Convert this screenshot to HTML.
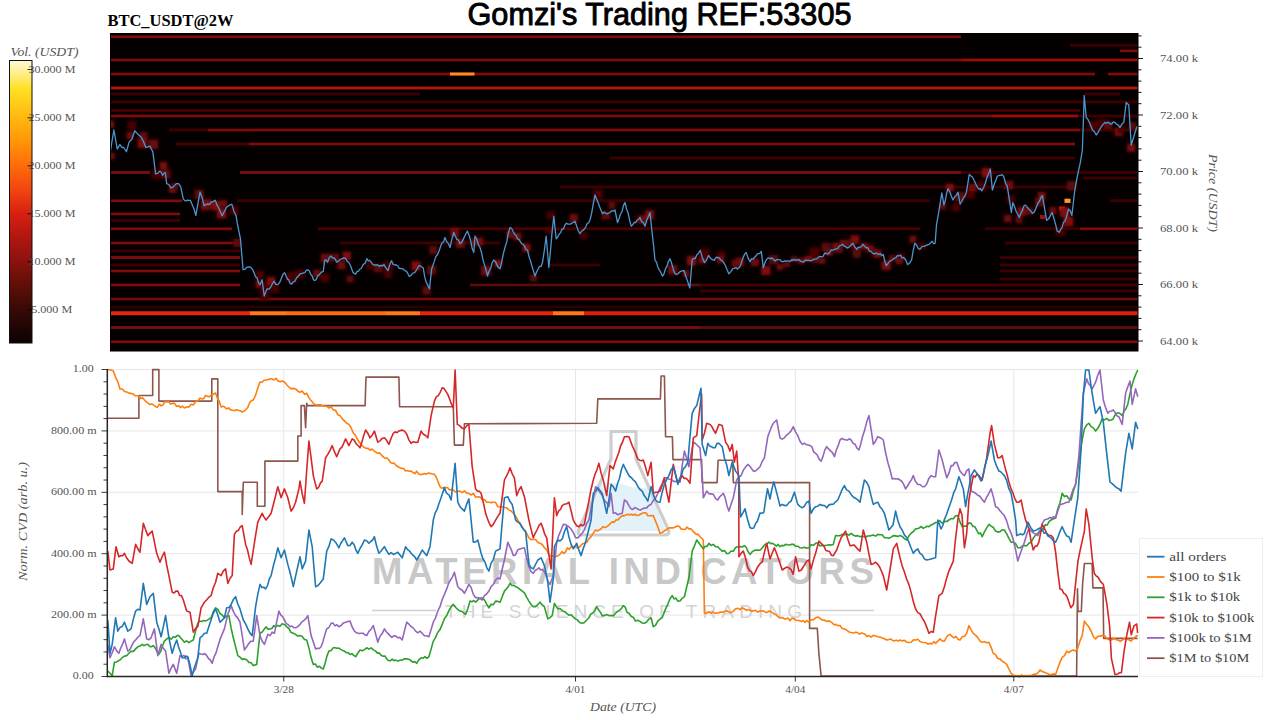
<!DOCTYPE html><html><head><meta charset="utf-8"><style>html,body{margin:0;padding:0;background:#fff;width:1280px;height:720px;overflow:hidden}svg{position:absolute;left:0;top:0}</style></head><body>
<svg width="1280" height="720" viewBox="0 0 1280 720">
<defs>
<linearGradient id="cb" x1="0" y1="1" x2="0" y2="0"><stop offset="0" stop-color="#0c0202"/><stop offset="0.12" stop-color="#380a06"/><stop offset="0.20" stop-color="#5e0e08"/><stop offset="0.29" stop-color="#8a120e"/><stop offset="0.37" stop-color="#b01610"/><stop offset="0.46" stop-color="#d82010"/><stop offset="0.54" stop-color="#f04410"/><stop offset="0.63" stop-color="#ff6c08"/><stop offset="0.72" stop-color="#ff9808"/><stop offset="0.80" stop-color="#ffb810"/><stop offset="0.90" stop-color="#ffe020"/><stop offset="0.96" stop-color="#fff090"/><stop offset="1" stop-color="#fff8d8"/></linearGradient>
<filter id="bl" x="-20%" y="-50%" width="140%" height="200%"><feGaussianBlur stdDeviation="0.55"/></filter>
<filter id="bl2" x="-50%" y="-50%" width="200%" height="200%"><feGaussianBlur stdDeviation="1.8"/></filter>
<clipPath id="hmclip"><rect x="110" y="33" width="1028" height="318"/></clipPath>
<clipPath id="cvdclip"><rect x="107" y="367" width="1032" height="311"/></clipPath>
</defs>
<text x="467.5" y="25" font-family="Liberation Sans" font-size="30.5" textLength="384" lengthAdjust="spacingAndGlyphs" fill="#000" stroke="#000" stroke-width="0.9" stroke-linejoin="round">Gomzi's Trading REF:53305</text>
<text x="107.5" y="26.3" font-family="Liberation Serif" font-weight="bold" font-size="16" textLength="126" lengthAdjust="spacingAndGlyphs" fill="#000">BTC_USDT@2W</text>
<rect x="110" y="33" width="1028" height="318" fill="#050000"/>
<g clip-path="url(#hmclip)">
<g filter="url(#bl)">
<rect x="110" y="35.35" width="851" height="2.8" fill="#7c0a0a"/>
<rect x="1070" y="43.90" width="68" height="2.8" fill="#3e0505"/>
<rect x="1120" y="49.40" width="18" height="2.8" fill="#7c0a0a"/>
<rect x="110" y="58.60" width="851" height="2.8" fill="#7c0a0a"/>
<rect x="961" y="58.60" width="177" height="2.8" fill="#961010"/>
<rect x="110" y="72.60" width="985" height="2.8" fill="#7c0a0a"/>
<rect x="1108" y="72.60" width="30" height="2.8" fill="#7c0a0a"/>
<rect x="110" y="86.60" width="1028" height="2.8" fill="#b41410"/>
<rect x="110" y="92.60" width="310" height="2.8" fill="#3e0505"/>
<rect x="1085" y="92.60" width="35" height="2.8" fill="#3e0505"/>
<rect x="110" y="100.60" width="1028" height="2.8" fill="#3e0505"/>
<rect x="110" y="109.10" width="970" height="2.8" fill="#4a0606"/>
<rect x="110" y="114.60" width="882" height="2.8" fill="#7c0a0a"/>
<rect x="992" y="114.60" width="86" height="2.8" fill="#961010"/>
<rect x="1078" y="114.60" width="60" height="2.8" fill="#3e0505"/>
<rect x="169" y="128.60" width="39" height="2.8" fill="#3e0505"/>
<rect x="208" y="128.60" width="872" height="2.8" fill="#7c0a0a"/>
<rect x="1080" y="128.60" width="58" height="2.8" fill="#3e0505"/>
<rect x="176" y="142.60" width="73" height="2.8" fill="#4a0606"/>
<rect x="249" y="142.60" width="826" height="2.8" fill="#7c0a0a"/>
<rect x="610" y="156.60" width="465" height="2.8" fill="#3e0505"/>
<rect x="110" y="171.10" width="40" height="2.8" fill="#7c0a0a"/>
<rect x="240" y="171.10" width="721" height="2.8" fill="#7c0a0a"/>
<rect x="961" y="171.10" width="177" height="2.8" fill="#3e0505"/>
<rect x="1083" y="176.60" width="55" height="2.8" fill="#3e0505"/>
<rect x="560" y="185.60" width="515" height="2.8" fill="#3e0505"/>
<rect x="110" y="199.35" width="72" height="2.8" fill="#7c0a0a"/>
<rect x="237" y="199.35" width="693" height="2.8" fill="#3e0505"/>
<rect x="1110" y="199.35" width="28" height="2.8" fill="#3e0505"/>
<rect x="110" y="212.60" width="70" height="2.8" fill="#7c0a0a"/>
<rect x="110" y="219.10" width="70" height="2.8" fill="#3e0505"/>
<rect x="110" y="227.35" width="122" height="2.8" fill="#7c0a0a"/>
<rect x="318" y="227.35" width="602" height="2.8" fill="#4a0606"/>
<rect x="985" y="227.35" width="95" height="2.8" fill="#3e0505"/>
<rect x="1080" y="227.35" width="58" height="2.8" fill="#7c0a0a"/>
<rect x="110" y="241.60" width="125" height="2.8" fill="#7c0a0a"/>
<rect x="340" y="241.60" width="160" height="2.8" fill="#3e0505"/>
<rect x="1005" y="241.60" width="133" height="2.8" fill="#3e0505"/>
<rect x="110" y="249.60" width="130" height="2.8" fill="#3e0505"/>
<rect x="110" y="256.10" width="130" height="2.8" fill="#7c0a0a"/>
<rect x="1000" y="256.10" width="138" height="2.8" fill="#3e0505"/>
<rect x="110" y="263.60" width="130" height="2.8" fill="#3e0505"/>
<rect x="550" y="263.60" width="50" height="2.8" fill="#3e0505"/>
<rect x="1000" y="263.60" width="138" height="2.8" fill="#3e0505"/>
<rect x="110" y="269.60" width="130" height="2.8" fill="#7c0a0a"/>
<rect x="1000" y="269.60" width="138" height="2.8" fill="#3e0505"/>
<rect x="1000" y="277.60" width="138" height="2.8" fill="#3e0505"/>
<rect x="110" y="283.60" width="130" height="2.8" fill="#7c0a0a"/>
<rect x="470" y="283.60" width="230" height="2.8" fill="#5a0808"/>
<rect x="700" y="283.60" width="438" height="2.8" fill="#4a0606"/>
<rect x="700" y="289.60" width="438" height="2.8" fill="#3e0505"/>
<rect x="110" y="297.60" width="1028" height="2.8" fill="#700a0a"/>
<rect x="110" y="305.60" width="1028" height="2.8" fill="#2a0404"/>
<rect x="110" y="311.25" width="140" height="4.0" fill="#e8260c"/>
<rect x="250" y="311.25" width="37" height="4.0" fill="#ff7a18"/>
<rect x="287" y="311.25" width="98" height="4.0" fill="#ff6a10"/>
<rect x="385" y="311.25" width="35" height="4.0" fill="#ff7a18"/>
<rect x="420" y="311.25" width="133" height="4.0" fill="#e8240c"/>
<rect x="553" y="311.25" width="31" height="4.0" fill="#ff7818"/>
<rect x="584" y="311.25" width="554" height="4.0" fill="#e01c0c"/>
<rect x="110" y="326.10" width="590" height="2.8" fill="#7c0a0a"/>
<rect x="700" y="326.10" width="438" height="2.8" fill="#5e0808"/>
<rect x="110" y="340.35" width="1028" height="2.8" fill="#7c0a0a"/>
<rect x="450" y="72.5" width="24.5" height="3.0" fill="#ff8a28"/>
<rect x="1064.5" y="198.7" width="6" height="4.2" fill="#ff9a30"/>
<rect x="1059" y="206.5" width="6" height="4" fill="#d02010"/>
<rect x="1040" y="215" width="5" height="4" fill="#a01010"/>
</g>
<g filter="url(#bl2)">
<rect x="100.8" y="131.0" width="9.5" height="9.5" fill="#5a0707"/>
<rect x="107.7" y="152.5" width="7.1" height="7.1" fill="#6e0909"/>
<rect x="106.9" y="120.7" width="7.2" height="7.2" fill="#820b0b"/>
<rect x="126.3" y="132.0" width="7.1" height="7.1" fill="#6e0909"/>
<rect x="127.5" y="121.1" width="8.7" height="8.7" fill="#4a0606"/>
<rect x="139.3" y="131.9" width="8.6" height="8.6" fill="#5a0707"/>
<rect x="137.6" y="138.7" width="9.3" height="9.3" fill="#820b0b"/>
<rect x="148.7" y="139.5" width="9.4" height="9.4" fill="#6e0909"/>
<rect x="151.6" y="169.7" width="9.2" height="9.2" fill="#4a0606"/>
<rect x="159.8" y="162.0" width="7.5" height="7.5" fill="#820b0b"/>
<rect x="161.3" y="169.6" width="9.3" height="9.3" fill="#5a0707"/>
<rect x="168.8" y="185.5" width="7.2" height="7.2" fill="#820b0b"/>
<rect x="171.0" y="182.8" width="7.2" height="7.2" fill="#5a0707"/>
<rect x="194.2" y="189.4" width="9.8" height="9.8" fill="#5a0707"/>
<rect x="200.4" y="201.1" width="9.3" height="9.3" fill="#6e0909"/>
<rect x="204.1" y="199.3" width="7.2" height="7.2" fill="#820b0b"/>
<rect x="210.9" y="200.9" width="9.6" height="9.6" fill="#820b0b"/>
<rect x="216.6" y="208.7" width="9.9" height="9.9" fill="#820b0b"/>
<rect x="220.3" y="199.9" width="7.0" height="7.0" fill="#6e0909"/>
<rect x="229.9" y="206.2" width="8.8" height="8.8" fill="#4a0606"/>
<rect x="233.1" y="238.6" width="8.4" height="8.4" fill="#5a0707"/>
<rect x="255.6" y="280.8" width="7.2" height="7.2" fill="#820b0b"/>
<rect x="255.4" y="270.7" width="8.8" height="8.8" fill="#4a0606"/>
<rect x="260.3" y="292.1" width="8.8" height="8.8" fill="#4a0606"/>
<rect x="259.7" y="282.2" width="9.9" height="9.9" fill="#4a0606"/>
<rect x="266.8" y="276.8" width="8.4" height="8.4" fill="#820b0b"/>
<rect x="270.5" y="284.0" width="8.4" height="8.4" fill="#4a0606"/>
<rect x="286.4" y="272.5" width="9.3" height="9.3" fill="#5a0707"/>
<rect x="288.5" y="274.0" width="8.6" height="8.6" fill="#4a0606"/>
<rect x="295.5" y="269.5" width="8.9" height="8.9" fill="#4a0606"/>
<rect x="313.2" y="269.7" width="7.6" height="7.6" fill="#6e0909"/>
<rect x="320.9" y="273.9" width="8.4" height="8.4" fill="#4a0606"/>
<rect x="320.6" y="253.0" width="9.9" height="9.9" fill="#4a0606"/>
<rect x="321.3" y="254.4" width="8.0" height="8.0" fill="#6e0909"/>
<rect x="330.7" y="253.2" width="8.4" height="8.4" fill="#5a0707"/>
<rect x="337.3" y="260.9" width="8.4" height="8.4" fill="#6e0909"/>
<rect x="342.5" y="251.5" width="8.4" height="8.4" fill="#820b0b"/>
<rect x="346.3" y="275.2" width="7.5" height="7.5" fill="#5a0707"/>
<rect x="365.8" y="261.7" width="7.5" height="7.5" fill="#4a0606"/>
<rect x="373.4" y="263.9" width="8.6" height="8.6" fill="#5a0707"/>
<rect x="383.2" y="265.3" width="7.1" height="7.1" fill="#6e0909"/>
<rect x="384.1" y="270.4" width="7.8" height="7.8" fill="#4a0606"/>
<rect x="383.7" y="261.7" width="9.7" height="9.7" fill="#4a0606"/>
<rect x="411.4" y="261.2" width="9.3" height="9.3" fill="#820b0b"/>
<rect x="422.3" y="286.2" width="8.7" height="8.7" fill="#5a0707"/>
<rect x="426.9" y="265.2" width="9.6" height="9.6" fill="#5a0707"/>
<rect x="429.1" y="245.9" width="8.5" height="8.5" fill="#5a0707"/>
<rect x="450.1" y="228.0" width="9.1" height="9.1" fill="#6e0909"/>
<rect x="455.7" y="238.9" width="9.1" height="9.1" fill="#6e0909"/>
<rect x="471.8" y="238.5" width="7.4" height="7.4" fill="#820b0b"/>
<rect x="475.4" y="237.4" width="8.3" height="8.3" fill="#6e0909"/>
<rect x="481.0" y="265.8" width="9.8" height="9.8" fill="#6e0909"/>
<rect x="494.2" y="259.8" width="7.7" height="7.7" fill="#820b0b"/>
<rect x="506.2" y="230.6" width="7.5" height="7.5" fill="#6e0909"/>
<rect x="513.6" y="232.5" width="8.1" height="8.1" fill="#6e0909"/>
<rect x="522.3" y="243.6" width="8.3" height="8.3" fill="#820b0b"/>
<rect x="530.0" y="274.1" width="7.3" height="7.3" fill="#5a0707"/>
<rect x="545.7" y="226.9" width="7.1" height="7.1" fill="#4a0606"/>
<rect x="546.7" y="211.1" width="8.2" height="8.2" fill="#4a0606"/>
<rect x="569.5" y="214.0" width="8.3" height="8.3" fill="#6e0909"/>
<rect x="579.9" y="232.0" width="7.3" height="7.3" fill="#4a0606"/>
<rect x="592.9" y="189.4" width="10.0" height="10.0" fill="#4a0606"/>
<rect x="601.5" y="211.2" width="8.6" height="8.6" fill="#5a0707"/>
<rect x="608.1" y="201.5" width="7.5" height="7.5" fill="#5a0707"/>
<rect x="635.5" y="215.9" width="8.0" height="8.0" fill="#4a0606"/>
<rect x="638.7" y="215.2" width="8.5" height="8.5" fill="#6e0909"/>
<rect x="645.1" y="210.2" width="9.0" height="9.0" fill="#820b0b"/>
<rect x="668.0" y="265.2" width="9.5" height="9.5" fill="#6e0909"/>
<rect x="682.4" y="270.1" width="7.0" height="7.0" fill="#6e0909"/>
<rect x="686.8" y="256.0" width="9.6" height="9.6" fill="#820b0b"/>
<rect x="698.6" y="255.9" width="7.6" height="7.6" fill="#820b0b"/>
<rect x="699.6" y="248.6" width="9.9" height="9.9" fill="#4a0606"/>
<rect x="717.6" y="251.1" width="7.5" height="7.5" fill="#4a0606"/>
<rect x="716.5" y="255.6" width="7.7" height="7.7" fill="#6e0909"/>
<rect x="731.2" y="259.6" width="8.2" height="8.2" fill="#5a0707"/>
<rect x="735.5" y="257.4" width="9.0" height="9.0" fill="#6e0909"/>
<rect x="750.9" y="258.4" width="7.9" height="7.9" fill="#6e0909"/>
<rect x="761.3" y="266.1" width="9.2" height="9.2" fill="#820b0b"/>
<rect x="769.0" y="254.9" width="9.5" height="9.5" fill="#5a0707"/>
<rect x="809.5" y="247.4" width="9.9" height="9.9" fill="#4a0606"/>
<rect x="821.5" y="242.8" width="8.9" height="8.9" fill="#5a0707"/>
<rect x="834.1" y="244.0" width="9.0" height="9.0" fill="#5a0707"/>
<rect x="845.8" y="239.2" width="9.5" height="9.5" fill="#5a0707"/>
<rect x="850.6" y="235.3" width="8.5" height="8.5" fill="#820b0b"/>
<rect x="852.2" y="247.5" width="8.9" height="8.9" fill="#5a0707"/>
<rect x="863.8" y="243.5" width="8.9" height="8.9" fill="#4a0606"/>
<rect x="872.5" y="248.8" width="9.1" height="9.1" fill="#5a0707"/>
<rect x="881.8" y="260.6" width="9.3" height="9.3" fill="#820b0b"/>
<rect x="896.1" y="252.9" width="8.4" height="8.4" fill="#4a0606"/>
<rect x="909.3" y="235.6" width="7.2" height="7.2" fill="#6e0909"/>
<rect x="918.1" y="242.4" width="7.4" height="7.4" fill="#4a0606"/>
<rect x="939.1" y="202.4" width="7.5" height="7.5" fill="#5a0707"/>
<rect x="945.9" y="183.6" width="7.9" height="7.9" fill="#820b0b"/>
<rect x="955.1" y="192.0" width="9.8" height="9.8" fill="#5a0707"/>
<rect x="952.1" y="203.4" width="8.1" height="8.1" fill="#4a0606"/>
<rect x="965.5" y="188.6" width="9.8" height="9.8" fill="#4a0606"/>
<rect x="968.8" y="183.6" width="7.7" height="7.7" fill="#6e0909"/>
<rect x="977.3" y="181.8" width="9.4" height="9.4" fill="#4a0606"/>
<rect x="981.7" y="167.8" width="9.7" height="9.7" fill="#820b0b"/>
<rect x="1004.6" y="180.7" width="8.9" height="8.9" fill="#6e0909"/>
<rect x="1004.0" y="214.8" width="7.5" height="7.5" fill="#6e0909"/>
<rect x="1006.9" y="195.2" width="8.2" height="8.2" fill="#4a0606"/>
<rect x="1015.3" y="216.1" width="7.5" height="7.5" fill="#5a0707"/>
<rect x="1017.4" y="207.0" width="8.7" height="8.7" fill="#820b0b"/>
<rect x="1021.9" y="206.9" width="7.4" height="7.4" fill="#820b0b"/>
<rect x="1025.2" y="207.1" width="8.0" height="8.0" fill="#5a0707"/>
<rect x="1034.6" y="197.5" width="9.2" height="9.2" fill="#5a0707"/>
<rect x="1037.8" y="192.1" width="7.8" height="7.8" fill="#820b0b"/>
<rect x="1049.2" y="207.0" width="7.3" height="7.3" fill="#6e0909"/>
<rect x="1055.6" y="226.6" width="9.5" height="9.5" fill="#4a0606"/>
<rect x="1059.7" y="207.1" width="9.9" height="9.9" fill="#820b0b"/>
<rect x="1063.5" y="216.5" width="9.9" height="9.9" fill="#820b0b"/>
<rect x="1066.7" y="181.0" width="9.8" height="9.8" fill="#5a0707"/>
<rect x="1088.4" y="120.8" width="9.9" height="9.9" fill="#4a0606"/>
<rect x="1097.8" y="118.9" width="8.6" height="8.6" fill="#4a0606"/>
<rect x="1103.5" y="120.9" width="8.6" height="8.6" fill="#5a0707"/>
<rect x="1114.3" y="128.0" width="8.4" height="8.4" fill="#6e0909"/>
<rect x="1118.1" y="125.4" width="7.2" height="7.2" fill="#4a0606"/>
<rect x="1127.2" y="143.7" width="8.1" height="8.1" fill="#820b0b"/>
<rect x="1128.5" y="122.0" width="7.6" height="7.6" fill="#5a0707"/>
<rect x="776.5" y="263.9" width="7" height="6" fill="#700a0a"/>
<rect x="783.5" y="261.4" width="7" height="6" fill="#5a0808"/>
<rect x="790.5" y="256.1" width="7" height="6" fill="#5a0808"/>
<rect x="797.5" y="257.8" width="7" height="6" fill="#700a0a"/>
<rect x="804.5" y="255.8" width="7" height="6" fill="#801010"/>
<rect x="811.5" y="257.2" width="7" height="6" fill="#5a0808"/>
<rect x="818.5" y="257.7" width="7" height="6" fill="#700a0a"/>
<rect x="825.5" y="249.9" width="7" height="6" fill="#801010"/>
<rect x="832.5" y="243.0" width="7" height="6" fill="#801010"/>
<rect x="839.5" y="239.8" width="7" height="6" fill="#700a0a"/>
<rect x="846.5" y="240.6" width="7" height="6" fill="#5a0808"/>
<rect x="853.5" y="252.0" width="7" height="6" fill="#5a0808"/>
<rect x="860.5" y="243.0" width="7" height="6" fill="#801010"/>
<rect x="867.5" y="245.9" width="7" height="6" fill="#700a0a"/>
<rect x="874.5" y="251.7" width="7" height="6" fill="#801010"/>
<rect x="881.5" y="262.8" width="7" height="6" fill="#801010"/>
<rect x="888.5" y="255.1" width="7" height="6" fill="#5a0808"/>
<rect x="895.5" y="258.4" width="7" height="6" fill="#700a0a"/>
</g>
<polyline points="108.3,133.6 110.6,150.3 112.2,140.0 113.9,130.0 115.6,139.6 117.2,148.9 120.0,144.7 121.8,147.4 123.6,147.5 125.0,149.5 126.4,151.7 129.2,141.9 131.9,139.2 134.7,130.8 136.1,132.2 137.5,133.9 138.9,135.0 141.0,136.9 143.1,140.6 145.8,147.5 147.9,146.8 150.0,146.1 151.4,149.3 152.8,151.7 155.6,173.9 157.6,173.4 159.7,171.1 161.1,172.0 162.5,175.3 163.9,173.3 165.3,172.5 166.7,183.6 168.8,184.5 170.8,187.8 172.7,187.3 174.5,185.6 176.4,183.6 178.5,183.6 180.6,186.4 183.3,198.9 184.7,200.6 186.1,200.9 187.5,200.2 188.9,200.4 190.3,200.3 192.1,204.4 194.0,209.0 195.8,215.6 197.9,203.8 200.0,191.9 202.1,197.5 204.2,205.8 206.0,204.4 207.9,204.1 209.7,204.4 211.1,202.0 212.5,202.2 213.9,201.1 215.3,200.3 217.0,205.2 218.8,208.0 220.5,212.2 222.2,215.6 223.6,212.8 225.0,210.5 226.4,207.2 228.2,206.1 230.1,204.7 231.9,204.4 234.0,211.5 236.1,215.6 237.5,224.5 238.9,231.4 240.3,237.8 243.1,269.7 244.9,269.4 246.8,267.3 248.6,266.9 250.0,267.0 251.4,268.1 252.8,269.7 255.6,276.7 257.1,278.1 258.5,282.8 260.0,284.7 262.1,279.8 264.2,296.0 265.6,292.2 267.0,288.9 268.8,289.2 270.5,287.5 272.3,284.0 274.1,281.2 275.9,284.3 277.6,284.7 279.4,282.9 281.1,279.1 282.9,274.4 284.6,272.7 287.4,279.1 288.8,279.9 290.2,283.6 291.6,284.0 293.3,281.8 294.9,281.2 296.6,277.7 298.5,276.0 300.3,273.6 302.2,273.4 303.6,272.9 305.0,272.5 306.4,270.1 307.8,269.9 309.2,270.8 310.6,274.1 312.0,275.7 313.5,279.8 314.9,280.5 316.3,279.4 317.7,275.6 319.1,274.9 321.2,272.3 323.3,271.3 324.7,260.1 326.1,260.0 327.5,262.2 329.2,257.7 331.0,255.9 332.4,257.8 333.8,258.0 335.2,259.1 336.7,262.2 338.4,261.0 340.2,259.4 342.3,258.5 344.4,258.0 345.8,258.5 347.2,261.5 348.6,262.2 350.7,266.0 352.8,272.0 354.2,273.5 355.6,274.1 357.0,271.5 358.5,271.1 359.9,269.0 361.3,268.5 363.2,264.5 365.0,263.4 366.9,258.7 368.3,260.8 369.7,260.4 371.1,262.2 373.2,264.8 375.3,265.0 377.4,264.8 379.5,266.4 380.9,265.4 382.4,266.1 383.8,264.3 385.9,267.9 388.0,270.6 389.8,264.5 391.5,260.8 393.2,264.4 395.0,265.0 396.4,265.0 397.8,266.0 399.2,268.4 400.6,268.5 402.0,268.7 403.5,269.3 404.9,270.6 406.3,271.2 407.7,273.2 409.1,276.3 411.0,275.3 412.8,273.1 414.7,272.7 416.8,269.5 418.9,265.7 420.3,266.0 421.8,267.0 423.2,267.8 424.6,276.2 426.0,281.9 427.8,285.4 429.5,288.9 431.6,269.2 433.7,263.1 435.8,256.6 437.6,254.5 439.3,250.2 440.7,246.1 442.1,242.8 443.6,241.9 445.0,237.5 446.7,241.8 448.3,243.4 450.0,247.5 451.9,239.1 453.8,232.5 455.3,236.0 456.9,239.4 458.4,240.0 460.0,243.8 461.5,242.6 463.0,239.9 464.5,236.6 466.0,233.5 467.5,231.2 469.1,235.4 470.6,240.5 472.2,248.6 473.8,252.5 475.0,236.0 476.7,239.0 478.3,244.3 480.0,247.5 481.5,252.5 483.0,259.9 484.5,264.9 486.0,269.7 487.5,276.0 489.1,271.0 490.6,268.7 492.2,262.7 493.8,260.0 495.3,261.4 496.9,264.6 498.4,267.6 500.0,268.8 501.7,262.0 503.3,253.9 505.0,247.5 506.7,242.1 508.3,233.3 510.0,227.5 511.5,228.3 513.0,231.3 514.5,234.1 516.0,235.2 517.5,238.8 518.9,239.4 520.4,241.6 521.8,243.8 523.2,244.1 524.6,246.4 526.1,249.6 527.5,250.0 529.0,256.6 530.5,260.9 532.0,266.2 533.5,271.1 535.0,276.0 536.5,272.2 538.0,269.2 539.5,266.5 541.0,266.4 542.5,262.5 544.4,250.0 546.2,236.2 548.8,267.5 550.4,251.8 552.1,231.9 553.8,216.2 556.2,238.8 557.7,236.9 559.2,234.1 560.6,232.6 562.1,229.0 563.5,228.8 565.0,225.0 566.4,223.2 567.9,224.1 569.3,224.1 570.7,224.1 572.1,223.0 573.6,222.4 575.0,221.2 576.7,226.3 578.3,230.8 580.0,233.8 581.4,231.3 582.9,230.4 584.3,229.1 585.7,227.0 587.1,223.7 588.6,222.8 590.0,220.0 591.7,212.8 593.3,203.6 595.0,195.0 596.5,199.1 598.0,202.1 599.5,206.5 601.0,210.3 602.5,213.8 604.1,212.0 605.6,213.2 607.2,213.8 608.8,213.0 610.3,212.1 611.9,210.6 613.4,211.2 615.0,210.0 617.5,222.5 619.0,218.7 620.5,214.3 622.0,211.5 623.5,205.3 625.0,202.5 626.6,209.2 628.1,213.0 629.7,220.6 631.2,226.2 632.7,224.7 634.2,222.5 635.6,222.5 637.1,220.4 638.5,219.3 640.0,217.5 641.7,221.7 643.3,222.6 645.0,226.2 646.7,220.2 648.3,216.5 650.0,212.5 651.7,228.9 653.3,243.3 655.0,260.0 656.5,262.3 658.0,267.7 659.5,270.2 661.0,272.8 662.5,276.2 664.0,273.9 665.5,268.7 667.0,266.2 668.5,261.3 670.0,258.8 671.7,263.5 673.3,269.7 675.0,273.8 676.7,274.3 678.3,273.5 680.0,271.7 682.0,270.9 684.1,270.7 685.6,275.5 687.1,279.9 689.8,288.0 692.2,259.6 693.7,258.5 695.2,258.5 696.9,254.7 698.6,253.1 700.3,250.4 702.3,257.5 704.4,262.6 706.5,260.1 708.5,255.5 710.5,258.2 712.5,259.6 714.2,260.3 715.9,257.5 717.6,257.5 719.1,257.8 720.7,259.9 722.2,260.7 723.7,262.6 725.4,265.5 727.1,269.8 728.8,273.8 730.8,271.6 732.8,268.7 734.3,268.4 735.8,267.6 737.4,269.0 738.9,267.7 740.3,266.1 741.8,261.4 743.2,257.2 744.7,254.1 746.1,252.4 748.1,258.1 750.1,261.6 751.6,258.7 753.2,259.2 754.7,257.2 756.2,255.5 757.9,253.6 759.6,253.6 761.3,251.4 763.3,267.7 765.3,261.7 767.4,258.5 768.9,257.7 770.5,258.9 772.0,257.9 773.5,259.6 775.1,261.0 776.7,259.6 778.4,259.7 780.0,259.8 781.6,261.6 783.1,261.7 784.5,260.9 786.0,261.1 787.4,260.9 788.9,261.1 790.3,261.3 791.8,259.6 793.3,260.4 794.7,259.3 796.2,260.4 797.6,259.8 799.1,259.6 800.5,261.2 802.0,261.6 803.6,262.0 805.2,260.2 806.9,260.3 808.5,260.3 810.1,260.6 811.7,260.6 813.3,259.4 815.0,259.1 816.6,258.9 818.2,257.5 819.8,256.4 821.4,256.8 823.1,256.3 824.7,253.1 826.3,253.5 827.9,254.0 829.6,252.5 831.2,249.9 832.9,250.1 834.5,249.4 836.1,248.8 837.7,248.6 839.4,246.0 841.0,245.5 842.6,244.3 844.1,246.2 845.7,246.7 847.2,248.0 848.7,247.4 850.8,245.2 852.8,243.3 854.8,246.8 856.8,249.4 858.3,247.2 859.8,247.5 861.4,246.5 862.9,244.3 864.5,246.1 866.2,247.8 867.8,247.7 869.5,251.2 871.1,251.4 872.6,253.4 874.2,253.9 875.7,253.1 877.2,253.5 878.7,254.6 880.2,253.5 881.8,255.5 883.3,254.5 884.8,261.2 886.3,265.7 888.0,263.5 889.7,261.0 891.4,260.6 892.9,259.1 894.5,258.2 896.0,257.6 897.5,255.5 899.0,256.0 900.5,255.1 902.1,257.9 903.6,257.5 905.6,259.7 907.6,264.6 909.7,263.0 911.7,259.6 913.2,250.5 914.8,243.3 916.5,244.8 918.1,248.2 919.8,249.4 921.3,247.3 922.9,246.3 924.5,246.4 926.0,245.3 927.5,245.0 929.0,244.3 930.6,242.9 932.1,241.3 933.6,243.6 935.1,243.3 936.5,225.0 938.1,215.6 939.7,206.3 941.8,192.9 943.9,204.9 945.3,200.8 946.7,192.9 948.1,188.7 949.7,191.6 951.4,196.2 953.0,199.9 954.7,196.7 956.3,195.5 958.0,192.2 960.1,204.1 961.7,201.5 963.2,198.2 964.8,196.2 966.4,192.2 967.8,183.6 969.2,174.6 972.0,176.7 973.4,179.0 974.9,182.0 976.3,185.2 977.7,187.6 979.1,189.2 980.5,188.5 981.9,190.8 983.6,187.5 985.3,183.5 986.9,177.8 988.6,173.6 990.3,169.0 992.4,190.1 994.1,184.5 995.7,180.8 997.4,176.0 999.0,175.5 1000.7,175.4 1002.3,174.6 1003.9,176.9 1005.6,183.5 1007.2,185.9 1009.3,199.3 1011.4,212.6 1012.8,202.7 1014.4,206.1 1016.0,211.0 1017.6,214.0 1019.2,217.5 1020.8,213.5 1022.5,210.1 1024.1,205.6 1025.5,205.0 1026.9,207.0 1028.8,209.2 1030.6,210.9 1032.5,213.3 1033.9,212.3 1035.3,209.9 1036.7,206.3 1038.1,203.0 1039.6,200.9 1041.0,197.2 1042.4,195.7 1044.5,207.8 1046.6,220.3 1048.0,219.3 1049.4,217.7 1050.8,214.5 1052.2,212.6 1053.8,218.2 1055.5,223.9 1057.1,230.9 1059.2,232.3 1060.6,229.7 1062.0,227.7 1063.5,222.3 1064.9,221.3 1066.3,217.5 1068.4,209.1 1070.2,210.8 1071.9,215.4 1074.7,190.8 1077.5,175.3 1080.3,162.7 1082.4,150.0 1084.2,95.5 1086.2,117.5 1088.1,119.7 1090.0,123.8 1092.5,130.0 1094.4,131.7 1096.2,135.0 1098.1,132.4 1100.0,128.8 1101.7,126.1 1103.3,124.1 1105.0,122.5 1106.7,123.3 1108.3,122.1 1110.0,123.8 1111.7,124.0 1113.3,121.8 1115.0,122.5 1116.7,124.2 1118.3,125.1 1120.0,127.5 1121.9,124.1 1123.8,122.5 1126.2,102.5 1128.8,105.0 1131.2,145.0 1132.9,139.7 1134.6,134.0 1136.2,128.8 1137.5,126.0" fill="none" stroke="#4a96d2" stroke-width="1.3" stroke-linejoin="round"/>
</g>
<rect x="110.5" y="33.5" width="1027.5" height="317.5" fill="none" stroke="#000" stroke-width="1"/>
<line x1="1138" y1="341.00" x2="1143" y2="341.00" stroke="#000" stroke-width="0.9"/>
<text x="1160" y="344.60" font-family="Liberation Serif" font-size="11" fill="#555" textLength="38" lengthAdjust="spacingAndGlyphs">64.00 k</text>
<line x1="1138" y1="329.70" x2="1141.5" y2="329.70" stroke="#000" stroke-width="0.9"/>
<line x1="1138" y1="318.40" x2="1141.5" y2="318.40" stroke="#000" stroke-width="0.9"/>
<line x1="1138" y1="307.10" x2="1141.5" y2="307.10" stroke="#000" stroke-width="0.9"/>
<line x1="1138" y1="295.80" x2="1141.5" y2="295.80" stroke="#000" stroke-width="0.9"/>
<line x1="1138" y1="284.50" x2="1143" y2="284.50" stroke="#000" stroke-width="0.9"/>
<text x="1160" y="288.10" font-family="Liberation Serif" font-size="11" fill="#555" textLength="38" lengthAdjust="spacingAndGlyphs">66.00 k</text>
<line x1="1138" y1="273.20" x2="1141.5" y2="273.20" stroke="#000" stroke-width="0.9"/>
<line x1="1138" y1="261.90" x2="1141.5" y2="261.90" stroke="#000" stroke-width="0.9"/>
<line x1="1138" y1="250.60" x2="1141.5" y2="250.60" stroke="#000" stroke-width="0.9"/>
<line x1="1138" y1="239.30" x2="1141.5" y2="239.30" stroke="#000" stroke-width="0.9"/>
<line x1="1138" y1="228.00" x2="1143" y2="228.00" stroke="#000" stroke-width="0.9"/>
<text x="1160" y="231.60" font-family="Liberation Serif" font-size="11" fill="#555" textLength="38" lengthAdjust="spacingAndGlyphs">68.00 k</text>
<line x1="1138" y1="216.70" x2="1141.5" y2="216.70" stroke="#000" stroke-width="0.9"/>
<line x1="1138" y1="205.40" x2="1141.5" y2="205.40" stroke="#000" stroke-width="0.9"/>
<line x1="1138" y1="194.10" x2="1141.5" y2="194.10" stroke="#000" stroke-width="0.9"/>
<line x1="1138" y1="182.80" x2="1141.5" y2="182.80" stroke="#000" stroke-width="0.9"/>
<line x1="1138" y1="171.50" x2="1143" y2="171.50" stroke="#000" stroke-width="0.9"/>
<text x="1160" y="175.10" font-family="Liberation Serif" font-size="11" fill="#555" textLength="38" lengthAdjust="spacingAndGlyphs">70.00 k</text>
<line x1="1138" y1="160.20" x2="1141.5" y2="160.20" stroke="#000" stroke-width="0.9"/>
<line x1="1138" y1="148.90" x2="1141.5" y2="148.90" stroke="#000" stroke-width="0.9"/>
<line x1="1138" y1="137.60" x2="1141.5" y2="137.60" stroke="#000" stroke-width="0.9"/>
<line x1="1138" y1="126.30" x2="1141.5" y2="126.30" stroke="#000" stroke-width="0.9"/>
<line x1="1138" y1="115.00" x2="1143" y2="115.00" stroke="#000" stroke-width="0.9"/>
<text x="1160" y="118.60" font-family="Liberation Serif" font-size="11" fill="#555" textLength="38" lengthAdjust="spacingAndGlyphs">72.00 k</text>
<line x1="1138" y1="103.70" x2="1141.5" y2="103.70" stroke="#000" stroke-width="0.9"/>
<line x1="1138" y1="92.40" x2="1141.5" y2="92.40" stroke="#000" stroke-width="0.9"/>
<line x1="1138" y1="81.10" x2="1141.5" y2="81.10" stroke="#000" stroke-width="0.9"/>
<line x1="1138" y1="69.80" x2="1141.5" y2="69.80" stroke="#000" stroke-width="0.9"/>
<line x1="1138" y1="58.50" x2="1143" y2="58.50" stroke="#000" stroke-width="0.9"/>
<text x="1160" y="62.10" font-family="Liberation Serif" font-size="11" fill="#555" textLength="38" lengthAdjust="spacingAndGlyphs">74.00 k</text>
<line x1="1138" y1="47.20" x2="1141.5" y2="47.20" stroke="#000" stroke-width="0.9"/>
<line x1="1138" y1="35.90" x2="1141.5" y2="35.90" stroke="#000" stroke-width="0.9"/>
<text transform="translate(1208.5,154) rotate(90)" font-family="Liberation Serif" font-style="italic" font-size="12" fill="#555" textLength="78" lengthAdjust="spacingAndGlyphs">Price (USDT)</text>
<rect x="9" y="61" width="23" height="282" fill="url(#cb)"/>
<line x1="27.5" y1="69.5" x2="32" y2="69.5" stroke="#000" stroke-width="0.8"/>
<text x="28.4" y="73.1" font-family="Liberation Serif" font-size="11" fill="#555" textLength="47" lengthAdjust="spacingAndGlyphs">30.000 M</text>
<line x1="27.5" y1="117.8" x2="32" y2="117.8" stroke="#000" stroke-width="0.8"/>
<text x="28.4" y="121.39999999999999" font-family="Liberation Serif" font-size="11" fill="#555" textLength="47" lengthAdjust="spacingAndGlyphs">25.000 M</text>
<line x1="27.5" y1="165.8" x2="32" y2="165.8" stroke="#000" stroke-width="0.8"/>
<text x="28.4" y="169.4" font-family="Liberation Serif" font-size="11" fill="#555" textLength="47" lengthAdjust="spacingAndGlyphs">20.000 M</text>
<line x1="27.5" y1="213.8" x2="32" y2="213.8" stroke="#000" stroke-width="0.8"/>
<text x="28.4" y="217.4" font-family="Liberation Serif" font-size="11" fill="#555" textLength="47" lengthAdjust="spacingAndGlyphs">15.000 M</text>
<line x1="27.5" y1="261.8" x2="32" y2="261.8" stroke="#000" stroke-width="0.8"/>
<text x="28.4" y="265.40000000000003" font-family="Liberation Serif" font-size="11" fill="#555" textLength="47" lengthAdjust="spacingAndGlyphs">10.000 M</text>
<line x1="27.5" y1="309.8" x2="32" y2="309.8" stroke="#000" stroke-width="0.8"/>
<text x="31.2" y="313.40000000000003" font-family="Liberation Serif" font-size="11" fill="#555" textLength="41" lengthAdjust="spacingAndGlyphs">5.000 M</text>
<rect x="9.5" y="60.5" width="22.5" height="282.5" fill="none" stroke="#111" stroke-width="1"/>
<text x="10.5" y="56" font-family="Liberation Serif" font-style="italic" font-size="12" fill="#555" textLength="68" lengthAdjust="spacingAndGlyphs">Vol. (USDT)</text>
<line x1="108" y1="615.10" x2="1138" y2="615.10" stroke="#e6e6e6" stroke-width="1"/>
<line x1="108" y1="553.70" x2="1138" y2="553.70" stroke="#e6e6e6" stroke-width="1"/>
<line x1="108" y1="492.30" x2="1138" y2="492.30" stroke="#e6e6e6" stroke-width="1"/>
<line x1="108" y1="430.90" x2="1138" y2="430.90" stroke="#e6e6e6" stroke-width="1"/>
<line x1="108" y1="369.50" x2="1138" y2="369.50" stroke="#e6e6e6" stroke-width="1"/>
<line x1="283.75" y1="369" x2="283.75" y2="676" stroke="#e6e6e6" stroke-width="1"/>
<line x1="575.5" y1="369" x2="575.5" y2="676" stroke="#e6e6e6" stroke-width="1"/>
<line x1="795.3" y1="369" x2="795.3" y2="676" stroke="#e6e6e6" stroke-width="1"/>
<line x1="1013.8" y1="369" x2="1013.8" y2="676" stroke="#e6e6e6" stroke-width="1"/>
<g opacity="1">
<text x="372" y="583.7" font-family="Liberation Sans" font-weight="bold" font-size="36.5" fill="#c8c8c8" letter-spacing="4.6">MATERIAL INDICATORS</text>
<text x="445" y="617.6" font-family="Liberation Sans" font-size="19" fill="#d3d3d3" letter-spacing="5.1">THE SCIENCE OF TRADING</text>
<line x1="372" y1="610.5" x2="436" y2="610.5" stroke="#cfcfcf" stroke-width="1.5"/>
<line x1="811" y1="610.5" x2="874" y2="610.5" stroke="#cfcfcf" stroke-width="1.5"/>
<path d="M596,486 Q610,480 622,484 Q636,490 648,487 L666,531 L580,531 Z" fill="#e2f2f8"/>
<path d="M611,431.5 L636,431.5 L636,459 L668,529 Q671,535 664,535 L583,535 Q576,535 579,529 L611,459 Z" fill="none" stroke="#cdcdcd" stroke-width="3.2" stroke-linejoin="round"/>
</g>
<g clip-path="url(#cvdclip)" fill="none" stroke-width="1.6" stroke-linejoin="round">
<polyline points="107.8,418.2 138.9,418.2 138.9,395.5 152.7,395.5 152.7,369.6 158.9,369.6 158.9,401.1 211.8,401.1 211.8,378.9 217.8,378.9 217.8,491.6 242.2,491.6 242.2,514.4 243.3,482.2 257.3,482.2 257.3,506.2 264.9,506.2 264.9,461.1 297.8,461.1 297.8,436.0 301.1,436.0 301.1,405.6 304.4,405.6 305.6,427.8 306.7,403.3 307.5,405.6 365.1,405.6 366.0,377.1 398.9,377.1 399.6,406.7 453.3,406.7 454.4,445.1 463.3,445.1 464.4,423.8 596.7,423.3 597.8,398.9 660.4,398.9 661.1,376.0 664.4,376.0 665.6,436.8 672.4,436.8 673.0,459.6 701.6,459.6 702.1,482.6 717.1,482.6 718.1,460.2 732.7,460.2 733.3,482.6 809.6,482.6 809.6,628.4 817.3,628.4 818.9,653.3 821.1,676.0 1076.6,676.0 1077.5,588.8 1078.0,611.4 1081.3,611.4 1082.6,584.3 1084.4,563.5 1092.1,563.5 1092.9,587.9 1103.0,587.9 1103.7,638.4 1137.6,638.4" stroke="#8c564b"/>
<polyline points="107.8,369.6 109.6,369.7 111.5,370.3 113.3,371.0 115.5,377.1 117.8,381.8 120.0,388.9 122.2,389.0 124.5,391.4 126.7,392.0 128.9,393.1 131.1,393.4 133.3,394.0 135.2,395.8 137.0,395.7 138.9,396.0 140.7,398.5 142.6,397.8 144.4,400.0 146.3,401.9 148.1,403.2 150.0,404.6 151.9,403.9 153.7,405.0 155.6,406.7 157.4,407.3 159.3,404.2 161.1,405.9 163.0,404.8 164.8,401.6 166.7,402.0 168.7,401.8 170.6,404.1 172.6,403.2 174.6,403.4 176.5,406.4 178.5,405.7 180.5,407.6 182.4,406.1 184.4,408.0 186.6,406.9 188.9,407.1 191.1,404.2 193.3,405.0 195.5,401.7 197.8,400.9 200.0,398.0 201.8,398.9 203.7,398.7 205.6,395.5 207.4,396.4 209.2,396.7 211.1,395.5 213.3,394.3 215.6,393.0 217.4,398.3 219.3,401.3 221.1,407.0 223.0,406.3 224.8,407.1 226.7,409.0 228.6,407.9 230.6,409.9 232.5,410.2 234.4,410.7 236.4,409.7 238.3,410.2 240.3,410.7 242.2,412.0 244.0,411.1 245.9,409.6 247.8,407.4 249.6,402.7 251.5,400.6 253.3,400.0 255.5,395.4 257.8,387.9 260.0,382.0 262.0,382.2 264.0,380.2 266.0,380.0 268.0,379.6 270.0,378.9 272.0,379.0 274.1,379.9 276.1,378.3 278.1,380.9 280.2,381.7 282.2,380.9 284.4,381.9 286.7,384.8 288.9,387.0 290.8,388.6 292.6,388.4 294.4,388.6 296.3,389.4 298.1,391.4 300.0,392.2 302.2,391.0 304.5,394.2 306.7,393.3 308.9,397.6 311.1,400.6 313.3,403.3 315.5,405.0 317.8,404.9 320.0,404.7 322.2,405.6 324.4,406.2 326.6,406.2 328.9,408.0 331.1,406.7 333.3,409.9 335.6,410.4 337.8,414.7 340.0,415.6 342.2,418.6 344.4,420.9 346.7,423.2 348.9,424.4 351.1,427.8 353.4,433.1 355.6,435.6 357.8,440.1 360.0,442.9 362.2,445.6 364.1,447.4 366.1,448.4 368.1,448.2 370.0,450.2 371.9,449.0 373.9,450.9 375.9,452.2 377.8,453.3 379.6,452.9 381.5,455.1 383.4,457.1 385.2,458.2 387.0,458.0 388.9,460.0 390.8,462.7 392.6,463.1 394.4,463.4 396.3,465.7 398.1,466.7 400.0,467.8 401.9,468.5 403.7,468.5 405.6,471.0 407.4,470.5 409.2,471.2 411.1,471.1 413.0,472.5 414.8,473.7 416.6,471.2 418.5,473.7 420.4,474.6 422.2,474.4 424.2,473.6 426.3,474.1 428.3,473.0 430.3,473.4 432.4,474.0 434.4,474.4 436.3,477.2 438.1,481.8 440.0,486.7 441.9,488.3 443.9,487.4 445.9,487.6 447.8,487.8 449.6,490.0 451.5,489.5 453.3,490.0 455.5,492.0 457.8,491.2 460.0,491.1 462.2,492.6 464.4,490.8 466.7,493.1 468.9,493.3 471.1,495.0 473.4,493.5 475.6,497.2 477.8,496.7 480.0,497.0 482.2,499.4 484.5,499.8 486.7,502.2 488.9,502.2 491.1,502.6 493.3,502.2 495.5,502.3 497.8,506.6 500.0,506.7 502.2,506.8 504.5,507.5 506.7,507.8 508.9,509.9 511.1,511.0 513.3,513.3 515.5,516.0 517.8,520.0 520.0,523.8 522.2,526.7 524.4,530.6 526.7,533.4 528.9,537.8 531.1,539.6 533.3,539.3 535.6,539.5 537.8,542.2 540.0,543.3 542.2,544.5 544.4,547.8 546.6,549.7 548.9,554.5 551.1,556.7 553.3,555.8 555.5,556.8 557.8,555.8 560.0,554.4 561.9,551.7 563.7,553.4 565.5,552.0 567.4,547.9 569.2,549.3 571.1,546.7 573.3,546.5 575.5,546.6 577.8,548.2 580.0,546.7 582.2,543.9 584.5,542.9 586.7,542.2 588.9,538.9 591.1,536.6 593.4,532.9 595.6,530.0 597.5,531.0 599.3,529.9 601.2,528.7 603.0,526.6 604.9,527.6 606.7,526.7 608.6,525.4 610.4,523.5 612.2,521.9 614.1,522.3 615.9,519.9 617.8,520.0 620.0,517.6 622.2,515.6 624.0,515.9 625.8,515.0 627.7,514.2 629.5,515.0 631.3,514.3 633.1,515.2 634.9,514.2 636.7,515.5 638.6,515.2 640.4,514.3 642.2,513.3 644.1,512.8 645.9,512.8 647.8,515.7 649.6,515.7 651.4,515.6 653.3,515.6 655.5,521.0 657.8,526.7 660.0,533.3 662.2,532.5 664.5,530.8 666.7,529.5 668.9,527.8 671.1,527.9 673.4,527.9 675.6,526.7 677.5,526.0 679.4,526.5 681.3,529.2 683.2,529.3 685.1,529.5 687.0,527.1 688.9,528.9 690.8,528.8 692.6,530.8 694.5,532.6 696.3,534.5 698.1,534.1 700.0,536.7 703.3,540.0 704.4,613.3 706.6,613.4 708.9,611.9 711.1,613.3 713.0,611.8 714.8,613.5 716.7,612.9 718.5,613.0 720.4,612.0 722.2,612.2 724.1,611.9 725.9,610.9 727.8,611.1 729.6,612.3 731.4,612.4 733.3,611.1 735.5,608.9 737.8,608.2 740.0,609.6 742.2,607.8 744.4,609.0 746.7,610.3 748.9,609.4 751.1,611.1 753.3,610.9 755.5,610.3 757.8,612.1 760.0,611.1 762.2,610.7 764.5,611.6 766.7,612.7 768.9,611.1 771.1,611.6 773.4,613.5 775.6,614.4 777.8,616.3 780.0,618.0 782.2,617.5 784.4,618.9 786.3,618.7 788.1,618.0 790.0,620.7 791.9,618.3 793.7,618.5 795.6,620.0 797.5,620.5 799.4,620.6 801.3,621.5 803.2,620.6 805.1,622.5 807.0,620.5 808.9,622.2 811.1,619.8 813.4,619.8 815.6,617.8 817.8,617.0 820.0,618.3 822.2,620.2 824.4,620.0 826.3,621.4 828.2,620.9 830.1,621.3 832.1,622.7 834.0,624.7 835.9,624.4 837.8,625.6 840.0,625.5 842.2,628.5 844.5,629.1 846.7,630.0 848.9,631.9 851.2,632.5 853.4,633.0 855.6,632.2 857.5,632.5 859.4,634.1 861.3,633.0 863.2,633.6 865.1,634.3 867.0,636.5 868.9,635.6 871.1,637.1 873.3,635.3 875.6,636.0 877.8,636.7 880.0,637.1 882.2,637.9 884.5,638.8 886.7,640.0 888.6,639.6 890.5,639.0 892.4,640.2 894.3,641.0 896.2,640.1 898.1,641.1 900.0,640.0 902.2,640.9 904.5,640.4 906.7,642.2 908.9,642.5 911.2,642.3 913.4,639.9 915.6,640.0 917.8,639.2 920.0,641.5 922.2,642.2 924.1,642.5 926.0,642.7 927.9,644.2 929.9,643.3 931.8,644.0 933.7,641.7 935.6,643.3 937.8,641.2 940.0,638.9 942.2,640.9 944.4,641.1 946.3,637.5 948.1,635.3 950.0,634.4 952.0,636.3 954.0,637.9 956.0,636.4 958.0,639.3 960.0,640.0 962.2,636.6 964.5,636.3 966.7,633.3 968.9,625.6 971.1,629.9 973.3,633.3 975.5,635.1 977.8,637.6 980.0,641.1 982.2,642.2 984.5,641.7 986.7,642.8 988.9,642.2 991.1,647.4 993.3,653.3 995.5,654.6 997.8,658.5 1000.0,658.9 1002.2,661.3 1004.5,662.5 1006.7,664.4 1008.9,669.0 1011.1,673.3 1013.4,675.2 1015.6,675.6 1017.6,676.1 1019.5,676.7 1021.5,674.9 1023.5,676.1 1025.4,675.5 1027.4,675.9 1029.4,675.6 1031.3,675.6 1033.3,674.4 1035.5,674.2 1037.8,672.9 1040.0,670.0 1042.2,671.5 1044.5,672.3 1046.7,673.3 1048.9,674.2 1051.2,674.8 1053.4,673.9 1055.6,674.4 1057.8,668.0 1060.0,662.2 1062.2,657.4 1064.5,655.6 1066.7,651.1 1068.9,652.7 1071.2,650.7 1073.4,650.0 1075.6,651.1 1077.8,647.8 1080.0,640.8 1082.2,635.6 1084.4,621.1 1086.6,624.2 1088.9,627.1 1091.1,631.1 1093.3,636.5 1095.6,638.9 1097.8,636.4 1100.0,636.1 1102.2,635.6 1104.4,635.5 1106.7,638.3 1108.9,639.8 1111.1,640.0 1112.9,639.0 1114.8,638.6 1116.7,639.9 1118.5,640.3 1120.3,641.3 1122.2,640.0 1124.4,638.8 1126.7,639.3 1128.9,639.8 1131.1,641.1 1133.3,638.4 1135.6,636.6 1137.8,635.6" stroke="#ff7f0e"/>
<polyline points="107.8,671.1 110.0,673.3 112.2,675.6 114.4,662.2 116.3,662.2 118.1,661.0 120.0,660.0 122.2,657.7 124.5,656.1 126.7,655.6 128.9,653.2 131.2,651.2 133.4,651.4 135.6,648.9 137.8,646.8 140.0,646.1 142.2,644.4 144.0,645.6 145.9,644.7 147.8,644.2 149.6,646.4 151.5,646.7 153.3,645.6 155.2,648.0 157.0,651.6 158.9,654.4 160.7,651.4 162.6,645.5 164.4,641.1 166.6,639.1 168.9,637.5 171.1,639.2 173.3,636.7 175.2,637.3 177.0,635.6 178.9,635.6 180.7,637.9 182.6,640.1 184.4,642.2 186.6,640.9 188.9,642.7 191.1,641.1 193.3,640.0 195.6,630.8 197.8,623.3 199.7,620.9 201.6,621.6 203.5,620.5 205.4,621.1 207.3,620.1 209.2,618.9 211.1,617.8 213.3,611.7 215.6,607.8 217.8,609.5 220.0,613.3 222.2,615.0 224.4,617.8 226.7,615.9 228.9,615.6 231.1,627.9 233.3,637.8 235.6,646.8 237.8,655.6 240.0,657.1 242.2,659.4 244.4,658.9 246.6,659.8 248.9,662.4 251.1,662.8 253.3,665.6 256.7,664.4 260.0,633.3 262.2,632.0 264.4,628.9 266.3,626.9 268.1,629.2 270.0,628.9 271.9,628.5 273.7,625.7 275.6,626.7 277.8,625.4 280.0,626.2 282.2,623.7 284.4,624.4 286.6,626.6 288.9,628.7 291.1,632.5 293.3,633.3 295.5,634.3 297.8,636.0 300.0,635.6 302.2,636.4 304.5,639.5 306.7,640.0 308.9,647.9 311.1,657.6 313.3,664.4 315.3,664.0 317.3,667.2 319.3,666.2 321.3,668.1 323.3,668.9 325.2,663.0 327.0,655.9 328.9,651.1 331.1,650.5 333.3,647.8 335.1,647.7 337.0,648.3 338.9,648.1 340.7,649.4 342.5,650.4 344.4,651.1 346.3,652.7 348.1,652.5 350.0,654.5 351.9,653.6 353.7,655.4 355.6,656.7 357.8,653.2 360.0,650.0 362.2,650.8 364.5,649.6 366.7,647.8 368.9,649.1 371.1,647.9 373.4,649.9 375.6,651.1 377.5,653.1 379.3,652.9 381.1,655.2 383.0,656.2 384.9,656.0 386.7,658.9 388.6,660.8 390.4,660.6 392.2,659.1 394.1,660.7 395.9,660.1 397.8,661.1 400.0,660.2 402.2,660.1 404.5,658.8 406.7,658.9 408.7,659.3 410.7,660.3 412.7,662.1 414.7,661.6 416.7,663.3 418.9,659.6 421.1,657.8 423.1,658.3 425.0,656.7 426.9,658.4 428.9,656.7 431.1,649.1 433.3,641.1 435.5,637.6 437.8,632.2 440.0,629.6 442.2,624.4 444.4,618.7 446.7,615.6 448.9,610.7 451.1,606.8 453.3,604.4 455.5,607.2 457.8,609.5 460.0,611.1 461.9,611.2 463.7,613.0 465.6,614.4 467.8,608.8 470.0,601.1 471.9,601.8 473.7,600.5 475.6,602.2 477.8,599.9 480.0,598.2 482.2,597.8 484.4,599.9 486.7,604.2 488.9,607.8 491.1,604.2 493.4,604.7 495.6,601.1 497.8,601.4 500.0,602.2 502.2,596.7 504.4,591.1 506.3,589.0 508.1,586.8 510.0,583.3 511.9,585.5 513.7,585.2 515.6,586.7 517.8,587.6 520.0,589.4 522.2,591.1 524.4,592.9 526.7,597.4 528.9,601.1 531.1,604.5 533.3,606.7 535.5,606.7 537.8,604.6 540.0,602.2 542.2,605.0 544.4,606.7 547.8,618.9 550.0,617.6 552.2,615.6 554.4,603.3 557.8,608.9 560.0,608.5 562.2,610.6 564.5,611.7 566.7,613.3 568.9,615.2 571.2,614.8 573.4,617.1 575.6,618.9 577.8,620.4 580.0,622.8 582.2,623.3 584.4,622.5 586.7,620.0 588.9,617.8 590.9,613.9 592.8,613.1 594.8,610.8 596.7,606.7 598.5,609.8 600.4,612.2 602.2,615.6 604.4,615.6 606.7,614.5 608.9,615.6 611.1,615.5 613.4,615.6 615.6,613.3 617.5,611.4 619.5,610.1 621.4,608.6 623.3,605.6 625.2,607.2 627.0,612.2 628.9,613.3 631.1,616.3 633.4,617.5 635.6,621.1 637.8,620.3 640.0,621.4 642.2,623.0 644.4,623.3 646.6,622.1 648.9,619.1 651.1,617.8 653.3,626.7 655.5,625.3 657.8,621.1 660.0,619.0 662.2,617.8 665.6,608.9 667.8,604.3 670.0,598.8 672.2,595.6 674.1,598.9 675.9,598.1 677.8,601.1 680.0,600.9 682.2,598.3 684.4,596.7 686.6,587.4 688.9,577.8 692.2,551.1 694.5,545.7 696.7,540.0 700.0,544.4 703.3,548.9 705.2,546.3 707.0,546.5 708.9,543.3 711.1,545.4 713.3,544.4 715.5,546.6 717.8,546.7 720.0,549.2 722.2,551.1 724.4,550.6 726.7,553.6 728.9,553.3 731.1,551.0 733.3,551.3 735.6,547.5 737.8,546.7 740.0,546.6 742.2,547.0 744.4,545.6 746.3,547.5 748.1,551.6 750.0,554.4 752.0,551.9 753.9,550.7 755.8,550.1 757.8,550.0 759.6,550.3 761.5,548.8 763.3,546.6 765.2,544.2 767.0,544.0 768.9,542.2 770.8,543.7 772.6,543.3 774.5,544.7 776.3,546.2 778.1,544.4 780.0,546.7 781.9,545.4 783.7,545.8 785.5,544.4 787.4,544.8 789.2,545.0 791.1,544.4 793.3,544.2 795.5,546.2 797.8,546.2 800.0,547.8 802.2,548.0 804.5,547.3 806.7,548.3 808.9,547.8 811.1,544.8 813.4,545.3 815.6,543.3 817.8,542.7 820.0,545.9 822.2,545.3 824.4,545.6 826.6,545.2 828.8,544.7 831.1,545.1 833.3,544.4 835.6,535.6 837.8,535.8 840.0,535.6 842.2,534.4 844.4,534.9 846.7,533.8 848.9,535.2 851.1,533.3 853.3,535.2 855.5,536.1 857.8,535.6 860.0,536.7 861.9,536.3 863.7,536.5 865.5,537.4 867.4,536.0 869.2,535.9 871.1,535.6 873.3,535.0 875.6,536.1 877.8,534.4 880.0,534.7 882.2,534.7 884.5,537.7 886.7,537.8 888.9,538.3 891.1,537.1 893.3,535.6 895.5,535.9 897.8,536.4 900.0,535.6 902.2,536.4 904.5,538.8 906.7,540.0 908.9,535.8 911.2,533.2 913.4,531.5 915.6,528.9 917.5,528.6 919.4,527.9 921.3,526.5 923.2,528.3 925.1,527.4 927.0,526.2 928.9,526.7 931.1,525.0 933.3,524.1 935.6,522.5 937.8,522.2 939.6,520.5 941.5,522.8 943.3,522.6 945.2,521.3 947.0,521.5 948.9,520.0 951.1,518.6 953.3,518.8 955.6,515.8 957.8,515.6 960.0,521.9 962.2,526.7 964.4,526.1 966.7,526.3 968.9,522.9 971.1,523.3 973.0,526.5 974.8,526.6 976.7,530.1 978.5,533.7 980.4,532.9 982.2,536.7 984.4,531.8 986.7,527.9 988.9,524.4 991.1,526.1 993.4,527.5 995.6,531.1 997.8,532.1 1000.0,531.6 1002.2,529.9 1004.4,530.0 1006.6,533.6 1008.9,538.4 1011.1,542.2 1013.3,542.1 1015.5,543.5 1017.8,547.7 1020.0,547.8 1022.2,546.1 1024.5,545.5 1026.7,545.8 1028.9,543.3 1031.1,542.3 1033.3,538.2 1035.6,534.9 1037.8,533.3 1039.7,530.7 1041.6,530.9 1043.5,528.9 1045.4,524.7 1047.3,524.9 1049.2,521.4 1051.1,520.0 1053.3,518.9 1055.6,518.0 1057.8,508.7 1060.0,502.7 1062.2,493.3 1064.4,496.6 1066.7,495.7 1068.9,498.7 1071.1,500.0 1073.3,491.2 1075.6,484.4 1077.8,470.1 1080.0,453.3 1082.2,439.7 1084.4,428.9 1086.7,424.8 1088.9,423.3 1091.1,426.6 1093.4,427.9 1095.6,431.1 1097.8,428.3 1100.0,424.1 1102.2,418.9 1104.4,419.9 1106.7,418.3 1108.9,420.4 1111.1,420.0 1113.0,419.2 1114.8,415.4 1116.7,413.3 1118.5,412.7 1120.4,413.9 1122.2,415.6 1124.1,411.2 1125.9,408.8 1127.8,404.4 1130.0,393.4 1132.2,384.4 1134.1,378.6 1135.9,374.0 1137.8,370.0" stroke="#2ca02c"/>
<polyline points="107.8,644.4 110.0,657.8 112.2,652.8 114.4,646.7 116.7,650.9 118.9,653.3 120.7,648.1 122.6,644.2 124.4,638.9 127.8,651.1 129.8,649.6 131.7,645.8 133.7,641.9 135.6,640.0 137.8,637.2 140.0,635.6 143.3,618.9 146.7,638.9 148.9,639.7 151.1,637.8 154.4,628.9 157.8,655.6 161.1,644.4 163.3,648.3 165.6,651.1 168.9,673.3 171.1,668.1 173.3,664.4 176.7,673.3 180.0,655.6 181.9,656.6 183.9,655.4 185.9,658.8 187.8,657.8 191.1,675.6 193.3,672.1 195.6,668.9 198.9,653.3 200.8,654.0 202.8,654.5 204.8,653.6 206.7,655.6 208.5,658.5 210.4,660.0 212.2,663.3 214.1,657.0 215.9,653.2 217.8,646.7 220.0,639.4 222.2,634.1 224.4,628.9 227.8,614.4 231.1,605.6 233.3,611.4 235.6,615.6 237.8,618.1 240.0,622.2 242.2,635.4 244.4,650.0 246.7,646.8 248.9,643.3 251.1,641.2 253.3,641.1 256.7,615.6 260.0,635.6 262.2,641.3 264.4,644.4 267.8,634.4 270.0,635.6 272.2,632.2 274.4,633.3 276.6,622.1 278.9,611.1 280.7,614.9 282.6,616.7 284.4,620.0 286.3,623.6 288.1,624.5 290.0,626.7 291.9,626.0 293.7,627.6 295.6,627.8 297.8,626.6 300.0,624.4 301.9,621.8 303.9,620.5 305.9,618.7 307.8,615.6 311.1,635.6 313.4,642.3 315.6,648.9 317.4,648.2 319.3,648.5 321.1,646.7 323.0,641.4 324.8,634.9 326.7,628.9 328.9,627.5 331.1,623.3 333.1,623.1 335.0,625.9 336.9,624.8 338.9,626.7 341.1,625.5 343.4,622.9 345.6,622.2 347.8,621.5 350.0,621.1 352.2,627.0 354.4,631.1 356.6,632.8 358.9,633.5 361.1,633.3 363.0,633.2 364.8,634.8 366.7,635.6 368.9,631.4 371.1,629.2 373.3,625.6 375.6,633.9 377.8,642.2 380.0,636.3 382.2,633.6 384.4,628.9 386.3,631.8 388.1,633.6 390.0,635.6 391.9,637.3 393.9,635.7 395.9,636.1 397.8,637.8 400.0,637.4 402.2,640.0 404.4,631.1 406.7,622.2 408.9,624.2 411.1,626.5 413.4,628.1 415.6,631.1 417.8,632.8 420.0,631.2 422.2,633.3 424.4,635.7 426.7,635.8 428.9,636.7 431.1,629.6 433.3,622.2 435.5,618.0 437.8,611.0 440.0,606.7 442.2,599.6 444.5,594.2 446.7,588.9 448.6,583.3 450.5,580.0 452.5,576.8 454.4,572.2 457.8,586.7 460.0,589.0 462.2,590.3 464.4,593.3 466.6,589.1 468.9,584.4 471.1,587.5 473.4,594.4 475.6,597.8 477.8,597.5 480.0,598.5 482.2,600.0 484.4,595.6 486.6,594.0 488.9,591.1 491.1,586.7 493.4,584.3 495.6,580.0 497.8,578.0 500.0,578.9 502.2,569.2 504.4,560.0 507.8,542.2 509.6,546.2 511.5,550.2 513.3,555.6 515.5,554.9 517.8,549.7 520.0,548.9 522.2,548.3 524.4,547.8 526.6,558.1 528.9,566.7 531.1,571.6 533.3,573.3 535.2,570.3 537.0,569.5 538.9,567.8 540.7,570.1 542.6,569.3 544.4,572.2 546.3,575.4 548.1,581.6 550.0,584.4 553.3,575.6 556.7,542.2 558.9,535.1 561.1,530.0 563.3,524.4 565.2,524.5 567.0,525.7 568.9,526.7 571.1,529.0 573.4,532.6 575.6,537.8 577.8,537.9 580.0,535.6 582.2,533.3 584.4,529.6 586.7,523.6 588.9,520.0 591.1,508.1 593.4,498.0 595.6,486.7 597.8,488.8 600.0,492.5 602.2,495.6 604.4,500.7 606.7,502.6 608.9,506.7 611.1,493.3 613.3,513.3 615.5,512.8 617.8,514.8 620.0,513.7 622.2,513.3 624.4,500.0 626.6,501.5 628.9,505.6 631.1,508.9 633.0,509.4 634.8,507.5 636.7,508.4 638.5,509.5 640.4,510.1 642.2,508.9 644.4,508.1 646.7,507.9 648.9,505.4 651.1,504.4 653.3,500.4 655.6,498.1 657.8,493.3 660.0,487.8 662.2,483.9 664.4,477.8 666.6,477.7 668.8,479.0 671.1,479.3 673.3,481.1 675.5,481.6 677.8,480.8 680.0,482.2 682.2,465.7 684.4,451.1 686.6,458.0 688.9,466.7 691.1,454.3 693.3,442.2 695.5,443.5 697.8,445.8 700.0,447.8 702.5,480.0 703.3,497.8 706.7,491.1 708.9,493.8 711.1,493.9 713.3,494.4 715.5,498.4 717.8,500.0 719.6,496.8 721.5,495.2 723.3,493.3 725.2,497.9 727.0,505.8 728.9,511.1 731.1,504.0 733.3,497.8 736.7,480.0 738.9,477.1 741.1,475.6 743.3,470.3 745.6,467.1 747.8,464.4 749.6,465.9 751.5,468.5 753.3,471.1 755.5,471.0 757.8,468.9 760.0,466.7 762.2,461.5 764.4,457.8 767.8,436.7 769.6,431.8 771.5,426.7 773.3,423.3 776.7,420.0 780.0,437.8 782.2,439.2 784.4,437.8 786.6,435.1 788.9,433.3 791.1,430.9 793.3,426.7 795.5,431.9 797.8,435.6 800.0,441.3 802.2,444.4 804.2,443.2 806.1,444.4 808.0,444.9 810.0,445.6 811.9,446.8 813.7,452.0 815.6,453.3 817.4,455.3 819.3,459.4 821.1,461.1 823.0,456.4 824.8,450.1 826.7,446.7 828.6,448.9 830.5,450.9 832.5,452.7 834.4,456.7 836.3,450.0 838.1,445.9 840.0,440.0 841.9,438.5 843.7,439.4 845.5,439.8 847.4,440.1 849.2,438.8 851.1,440.0 853.0,443.2 855.0,444.2 857.0,448.2 858.9,450.0 860.7,444.2 862.6,436.3 864.4,431.1 866.6,422.4 868.9,415.6 871.1,429.3 873.3,444.4 875.5,441.2 877.8,436.7 879.6,437.5 881.5,438.5 883.3,440.0 885.5,452.3 887.8,462.2 890.0,469.7 892.2,478.9 894.2,478.5 896.1,479.0 898.0,478.8 900.0,480.0 901.9,481.5 903.7,484.4 905.6,488.9 907.5,486.0 909.5,482.5 911.4,479.9 913.3,475.6 915.5,481.5 917.8,484.4 920.0,484.5 922.2,486.5 924.4,486.7 926.6,484.3 928.9,478.4 931.1,475.6 933.4,476.8 935.6,476.7 938.9,450.0 942.2,460.0 944.5,469.4 946.7,477.8 948.9,473.2 951.1,465.6 953.0,465.6 954.8,462.5 956.7,462.2 960.0,471.1 962.2,473.8 964.4,475.6 966.6,470.9 968.9,468.9 971.1,491.1 973.4,492.0 975.6,493.3 977.8,495.2 980.0,496.3 982.2,499.6 984.4,502.2 986.6,497.2 988.9,493.3 991.1,488.9 993.4,497.1 995.6,506.7 997.8,507.8 1000.0,510.8 1002.2,513.3 1004.4,515.6 1006.6,520.6 1008.8,528.3 1011.1,533.1 1013.3,540.0 1015.5,549.2 1017.8,561.1 1020.0,554.3 1022.2,548.3 1024.4,542.2 1026.7,534.4 1028.9,528.9 1031.1,530.8 1033.3,532.9 1035.6,534.1 1037.8,535.6 1040.0,531.0 1042.2,523.7 1044.4,520.0 1046.3,519.3 1048.1,518.8 1050.0,517.5 1051.9,518.2 1053.7,516.7 1055.6,517.8 1057.8,511.1 1060.0,504.4 1062.2,504.1 1064.5,503.2 1066.7,502.2 1068.9,502.2 1071.1,495.5 1073.4,488.8 1075.6,484.4 1078.9,455.6 1081.1,424.0 1083.3,393.3 1086.7,378.9 1088.5,383.5 1090.4,385.8 1092.2,388.9 1095.6,382.2 1097.8,375.3 1100.0,370.0 1103.3,400.0 1105.5,407.2 1107.8,413.3 1109.6,411.2 1111.5,411.0 1113.3,410.0 1115.2,412.6 1117.0,415.9 1118.9,416.7 1122.2,424.4 1125.6,393.3 1127.8,386.8 1130.0,381.1 1132.2,404.4 1135.6,388.9 1137.8,396.7" stroke="#9467bd"/>
<polyline points="107.8,551.1 110.0,570.0 113.3,568.9 116.0,546.7 118.9,556.7 120.7,555.8 122.6,555.8 124.4,553.3 126.7,558.0 128.9,561.0 132.2,563.3 135.6,544.4 137.8,548.7 140.0,552.2 143.3,523.3 145.6,529.8 147.8,535.6 150.0,533.1 152.2,531.1 154.4,541.9 156.7,553.3 160.0,562.2 162.2,556.5 164.4,552.2 166.7,565.0 168.9,575.6 172.2,592.2 174.1,593.0 175.9,591.1 177.8,591.1 179.6,595.4 181.5,595.6 183.3,600.0 186.7,611.1 190.0,612.2 193.3,632.2 195.6,628.3 197.8,626.7 201.1,607.8 204.4,602.2 206.6,600.0 208.9,597.2 211.1,595.6 213.3,587.7 215.6,582.3 217.8,573.3 221.1,575.6 223.3,571.1 225.6,568.9 227.8,583.3 230.0,578.5 232.2,575.6 234.4,534.4 236.3,531.3 238.3,530.6 240.2,527.0 242.2,525.6 245.6,544.4 247.4,549.5 249.3,557.9 251.1,564.4 253.3,550.0 255.6,535.4 257.8,522.2 260.0,517.7 262.2,513.3 264.1,517.1 266.0,520.0 268.6,516.8 271.1,513.3 273.3,504.8 275.6,495.8 277.8,486.7 281.1,497.8 284.4,488.9 287.8,497.8 291.1,511.1 293.4,507.7 295.6,502.2 298.9,488.9 300.0,481.1 302.2,493.7 304.4,503.3 306.6,471.7 308.9,441.1 311.1,457.9 313.3,475.6 316.7,488.9 318.5,487.5 320.4,483.1 322.2,481.1 325.6,457.8 327.8,454.4 330.0,450.3 332.2,445.6 334.4,451.7 336.7,456.7 340.0,448.9 341.9,447.1 343.7,443.3 345.6,438.9 348.9,445.6 352.2,438.9 354.1,440.0 356.1,443.7 358.1,445.5 360.0,447.8 361.9,442.1 363.7,435.5 365.6,430.0 367.8,433.2 370.0,437.8 372.2,435.2 374.4,431.1 377.8,442.2 380.0,440.8 382.2,438.4 384.4,437.8 386.6,440.3 388.9,444.4 391.1,438.3 393.3,433.3 395.1,431.9 397.0,432.6 398.9,431.0 400.7,430.4 402.5,430.1 404.4,431.1 406.6,433.9 408.9,439.9 411.1,443.3 413.3,441.7 415.6,442.4 417.8,442.2 421.1,431.1 423.3,434.2 425.6,435.5 427.8,437.8 431.1,415.6 434.4,401.1 436.3,396.7 438.3,395.6 440.2,392.3 442.2,387.8 444.1,388.6 445.9,391.4 447.8,394.4 449.6,398.9 451.5,404.3 453.3,407.8 455.1,370.0 457.3,424.4 459.7,425.6 462.0,428.1 464.4,428.9 466.6,425.9 468.9,424.4 472.2,466.7 475.6,488.9 477.4,491.1 479.3,491.3 481.1,493.3 483.4,502.8 485.6,513.3 487.4,518.6 489.3,523.3 491.1,526.7 493.3,524.4 495.6,520.2 497.8,516.4 500.0,513.3 502.2,497.3 504.4,480.0 506.3,476.3 508.1,472.9 510.0,467.8 512.2,473.8 514.4,477.8 516.7,495.6 518.9,490.0 521.1,486.7 524.4,496.7 526.6,508.0 528.9,520.0 531.1,529.4 533.3,537.8 535.2,533.3 537.2,529.5 539.1,525.4 541.1,523.3 543.0,528.4 544.8,534.4 546.7,537.8 548.9,554.9 551.1,568.9 554.4,497.8 556.7,515.6 558.5,511.1 560.4,509.5 562.2,505.6 564.4,504.2 566.7,503.8 568.9,502.2 571.1,510.8 573.3,520.0 575.2,523.6 577.0,526.0 578.9,526.7 580.7,524.5 582.6,525.8 584.4,524.4 586.5,512.5 588.5,503.0 590.9,490.0 593.3,480.0 595.2,473.7 597.0,469.6 598.9,463.3 601.1,473.2 603.3,480.0 606.7,495.6 610.0,465.6 613.3,468.9 615.2,462.1 617.0,457.2 618.9,452.2 620.7,445.5 622.6,442.0 624.4,436.7 626.6,436.6 628.9,436.7 632.2,445.6 634.1,449.6 635.9,453.9 637.8,458.9 639.6,460.2 641.5,460.7 643.3,460.0 645.5,467.1 647.8,475.6 651.1,462.2 653.3,493.3 655.5,492.2 657.8,492.2 660.0,491.1 662.2,485.3 664.4,477.8 666.6,491.5 668.9,502.2 671.1,482.9 673.3,464.4 675.5,474.5 677.8,483.3 680.0,479.6 682.2,475.6 684.2,478.5 686.1,478.3 688.0,480.3 690.0,483.3 693.3,437.8 696.7,435.6 699.2,413.5 701.6,394.0 702.2,440.0 704.5,433.0 706.7,423.3 710.0,424.4 711.9,426.6 713.7,430.3 715.6,433.3 718.9,424.4 722.2,425.6 725.6,442.2 727.8,445.4 730.0,451.1 732.2,444.4 734.4,462.2 736.7,451.1 738.8,482.5 738.9,556.7 741.1,553.3 743.3,551.1 745.5,557.9 747.8,567.8 749.6,570.6 751.5,571.9 753.3,575.6 755.5,571.6 757.8,566.7 760.0,563.7 762.2,562.2 764.5,551.9 766.7,543.3 770.0,558.9 772.2,553.3 774.4,547.8 776.6,553.5 778.9,560.0 782.2,570.0 784.4,568.5 786.7,567.1 788.9,567.8 791.1,569.7 793.3,574.4 795.6,556.7 798.9,571.1 801.1,570.2 803.3,566.7 805.2,563.9 807.0,560.9 808.9,560.0 811.1,568.9 813.4,560.1 815.6,553.3 818.9,541.1 822.2,544.4 824.1,546.6 825.9,550.5 827.8,551.1 829.6,551.6 831.5,555.3 833.3,555.6 836.7,550.0 838.9,543.8 841.1,537.8 843.4,534.2 845.6,531.1 847.8,539.3 850.0,545.6 851.9,545.6 853.7,544.9 855.6,546.7 857.8,549.1 860.0,551.1 863.3,530.0 866.7,542.2 868.9,553.8 871.1,564.4 873.4,563.7 875.6,562.2 877.8,564.3 880.0,567.8 883.3,575.6 886.7,590.0 890.0,570.0 893.3,548.9 896.7,543.3 900.0,557.8 902.2,565.9 904.5,572.3 906.7,579.3 908.9,584.4 911.1,592.4 913.4,601.8 915.6,608.9 917.8,612.6 920.0,613.8 922.2,617.8 924.4,621.5 926.7,627.1 928.9,633.3 931.1,631.5 933.3,632.2 935.2,618.6 937.0,607.3 938.9,595.6 942.2,593.3 944.4,586.7 946.7,577.9 948.9,571.1 951.1,566.1 953.3,561.1 955.5,539.0 957.8,520.0 960.0,508.9 962.0,515.0 964.4,547.8 966.7,533.3 968.9,500.0 971.1,486.9 973.3,475.6 975.2,477.1 977.0,474.0 978.9,475.6 982.2,480.0 984.5,469.0 986.7,457.8 990.0,433.3 991.6,425.6 994.4,444.4 997.8,457.8 1000.0,457.7 1002.2,455.6 1004.5,465.4 1006.7,473.3 1008.9,481.9 1011.1,488.9 1013.0,493.0 1014.8,498.7 1016.7,502.2 1018.9,502.1 1021.1,500.0 1023.3,510.9 1025.6,520.0 1028.9,528.9 1031.1,541.0 1033.3,550.0 1035.2,546.1 1037.0,546.2 1038.9,542.2 1042.2,524.4 1044.5,528.5 1046.7,533.3 1048.9,535.5 1051.1,535.5 1053.3,537.8 1055.6,552.2 1057.8,571.9 1060.0,588.9 1061.8,589.4 1063.6,593.2 1065.4,594.1 1067.2,597.0 1070.8,607.8 1073.5,604.2 1075.3,586.1 1078.0,560.8 1080.1,550.5 1082.3,540.6 1084.4,531.1 1086.2,509.0 1088.9,524.4 1092.2,557.8 1094.3,573.5 1096.1,575.8 1097.9,577.0 1100.6,581.6 1103.3,584.3 1105.1,593.8 1106.9,604.2 1109.6,625.8 1111.4,658.3 1115.0,674.5 1117.1,674.3 1119.3,672.8 1121.4,672.7 1124.1,651.1 1126.8,634.8 1129.5,622.2 1131.3,634.8 1134.0,625.8 1136.7,624.0 1137.6,633.0" stroke="#d62728"/>
<polyline points="107.8,620.0 110.0,653.3 112.2,644.4 115.6,617.8 117.8,631.1 120.0,627.4 122.2,626.5 124.4,622.2 127.8,631.1 131.1,628.9 133.3,619.4 135.6,611.1 137.8,609.3 140.0,610.0 143.3,583.3 146.7,604.4 150.0,596.7 153.3,593.3 156.7,622.2 158.9,628.9 161.1,636.7 163.3,626.9 165.6,615.6 168.9,637.8 172.2,653.3 174.4,645.7 176.7,640.0 178.5,646.7 180.4,652.0 182.2,657.8 184.1,658.0 185.9,656.0 187.8,656.7 190.0,664.9 192.2,675.6 194.1,668.5 195.9,663.3 197.8,657.8 200.0,637.8 202.2,636.1 204.5,633.2 206.7,633.3 208.9,626.6 211.1,619.7 213.3,613.3 215.6,608.9 217.8,615.0 220.0,622.2 222.2,620.1 224.4,617.8 226.7,607.8 228.9,607.5 231.1,604.4 233.3,599.6 235.6,596.7 237.8,604.0 240.0,608.9 243.3,620.0 245.6,623.9 247.8,628.9 250.0,633.1 252.2,635.6 255.6,606.7 257.8,594.3 260.0,584.4 261.9,587.5 263.7,587.2 265.6,588.9 267.4,585.9 269.3,579.1 271.1,575.6 273.3,566.0 275.6,557.7 277.8,547.8 281.1,557.8 284.4,550.0 287.8,564.4 289.6,570.8 291.5,578.5 293.3,586.7 296.7,571.1 300.0,556.7 302.2,568.9 305.6,561.1 308.9,530.0 312.2,546.7 315.6,586.7 317.8,585.6 320.0,583.3 323.3,578.9 326.7,551.1 328.9,546.4 331.1,538.9 333.4,540.0 335.6,542.2 338.9,547.8 340.7,543.5 342.6,540.7 344.4,537.8 347.8,545.6 350.0,545.5 352.2,542.2 354.1,544.8 355.9,550.0 357.8,553.3 360.0,548.5 362.2,544.9 364.4,540.0 366.6,540.7 368.9,543.3 370.7,541.5 372.6,540.1 374.4,536.7 376.6,546.1 378.9,553.3 380.7,551.5 382.6,548.9 384.4,546.7 386.6,550.8 388.9,554.4 391.1,552.6 393.4,554.4 395.6,553.4 397.8,552.2 400.0,554.9 402.2,557.8 405.6,546.7 407.4,549.4 409.3,550.8 411.1,553.3 413.0,555.2 414.8,556.9 416.7,560.0 418.5,557.0 420.4,553.6 422.2,550.0 424.4,552.8 426.7,555.6 430.0,546.7 433.3,520.0 435.1,513.1 437.0,509.7 438.9,503.7 440.7,498.8 442.5,493.5 444.4,487.8 446.6,493.2 448.9,494.8 451.1,500.0 453.1,481.5 455.1,463.3 457.8,502.2 460.0,506.7 462.2,508.9 464.4,511.1 466.6,504.4 468.9,498.9 471.1,520.0 473.3,542.2 475.6,541.9 477.8,540.0 481.1,553.3 483.1,559.3 485.0,561.9 486.9,567.8 488.9,571.1 491.1,563.2 493.4,559.3 495.6,551.1 497.8,550.0 500.0,548.9 502.2,522.5 504.4,497.8 507.8,496.7 510.0,501.6 512.2,504.4 515.6,520.0 517.8,522.1 520.0,523.3 521.9,527.3 523.7,529.6 525.6,531.1 528.9,564.4 531.1,567.6 533.3,568.9 535.5,564.5 537.8,560.0 541.1,557.8 544.4,565.6 547.8,582.2 550.0,602.2 553.3,578.9 554.4,546.7 557.8,540.0 560.0,541.0 562.2,538.9 564.5,531.4 566.7,526.7 568.9,536.7 571.1,544.4 573.3,548.9 576.7,543.3 578.9,550.1 581.1,555.6 583.4,548.1 585.6,542.2 588.9,528.9 591.1,520.0 593.3,493.3 595.5,491.5 597.8,487.8 600.0,490.4 602.2,493.3 604.5,503.4 606.7,513.3 608.9,500.0 611.1,484.4 613.4,486.8 615.6,491.1 617.5,483.7 619.5,478.2 621.4,469.7 623.3,464.4 625.5,469.0 627.8,473.3 629.6,476.5 631.5,477.7 633.3,480.0 635.5,481.9 637.8,486.5 640.0,489.5 642.2,491.1 644.1,495.3 645.9,497.9 647.8,501.1 651.1,486.7 653.4,494.6 655.6,500.0 657.8,502.0 660.0,502.2 662.2,492.2 664.4,484.4 666.6,479.6 668.9,475.6 671.1,469.9 673.3,466.7 675.5,474.1 677.8,484.4 679.6,478.7 681.5,475.2 683.3,468.9 685.5,466.6 687.8,462.2 690.0,436.5 692.2,413.3 694.5,408.4 696.7,405.6 698.9,396.5 701.0,388.2 702.2,444.4 705.6,455.6 707.8,443.3 709.6,445.9 711.5,446.7 713.3,447.8 715.2,447.6 717.0,443.4 718.9,443.3 722.2,446.7 724.4,457.9 726.7,465.0 728.9,475.6 732.2,462.2 735.6,471.1 738.9,475.6 740.6,516.9 742.8,513.2 745.0,508.8 747.5,519.3 750.0,527.5 751.9,528.5 753.8,528.0 755.6,523.5 757.5,521.0 760.0,513.0 761.9,513.3 763.8,512.5 765.6,500.4 767.5,488.8 770.0,499.0 771.9,488.9 773.8,481.9 775.8,489.4 777.9,497.4 780.0,506.0 782.2,504.4 784.5,505.4 786.7,505.6 788.9,502.6 791.1,501.1 794.4,492.2 797.8,504.4 800.0,506.4 802.2,507.8 804.4,506.2 806.7,502.3 808.9,501.1 811.1,513.3 813.4,508.8 815.6,506.7 817.8,506.2 820.0,504.4 822.2,505.4 824.5,505.5 826.7,507.8 828.9,504.9 831.1,504.4 833.3,504.3 835.6,501.8 837.8,500.0 840.0,494.7 842.2,489.4 844.4,485.6 846.6,489.9 848.9,491.1 850.7,493.9 852.6,496.3 854.4,497.8 856.3,498.8 858.1,500.1 860.0,502.2 862.2,490.8 864.4,480.0 866.6,482.2 868.9,486.7 871.1,496.0 873.3,504.4 875.5,503.1 877.8,502.2 880.0,506.9 882.2,509.3 884.4,513.3 886.6,521.5 888.9,530.0 891.0,527.5 893.0,525.0 895.6,511.1 897.8,520.3 900.0,526.7 902.2,530.1 904.5,535.1 906.7,537.5 908.9,542.2 911.1,548.0 913.3,553.3 915.5,550.4 917.8,548.9 920.0,553.4 922.2,554.9 924.4,558.9 926.6,560.0 928.9,559.5 931.1,558.9 933.4,558.2 935.6,557.8 937.8,520.0 941.0,529.0 942.8,525.5 944.6,518.8 946.4,515.0 948.2,509.6 950.0,504.4 951.9,499.1 953.7,492.7 955.6,488.9 958.9,476.7 961.1,482.5 963.3,488.9 965.6,506.7 967.4,495.6 969.3,485.8 971.1,475.6 974.4,470.0 977.8,474.4 981.1,481.1 983.0,475.5 984.8,466.4 986.7,460.0 988.9,451.2 991.1,441.1 994.4,460.0 996.6,466.1 998.9,471.1 1000.7,471.8 1002.6,473.8 1004.4,475.6 1006.6,480.3 1008.9,488.7 1011.1,493.3 1013.4,505.9 1015.6,520.0 1016.7,535.6 1018.6,534.8 1020.6,533.9 1022.5,534.9 1024.4,533.3 1028.0,522.0 1030.7,527.7 1033.3,531.1 1035.5,530.4 1037.8,529.2 1040.0,528.0 1042.0,528.7 1044.0,533.3 1046.0,532.7 1048.0,536.0 1049.9,537.1 1051.8,538.7 1053.7,541.4 1055.6,542.2 1057.8,537.6 1060.0,531.4 1062.2,526.7 1064.4,531.8 1066.7,535.9 1068.9,536.8 1071.1,542.2 1074.4,520.0 1077.8,497.8 1081.1,448.9 1083.3,395.6 1085.6,370.0 1088.9,370.0 1091.1,386.7 1093.3,400.4 1095.6,413.3 1097.8,409.9 1100.0,406.7 1103.3,422.2 1106.7,453.3 1110.0,482.2 1112.2,483.6 1114.5,485.8 1116.7,487.8 1118.9,488.9 1121.1,491.1 1123.3,472.7 1125.6,453.3 1128.9,433.3 1132.2,448.9 1135.6,422.2 1137.8,428.9" stroke="#1f77b4"/>
</g>
<line x1="107.3" y1="369" x2="107.3" y2="677.3" stroke="#262626" stroke-width="1.5"/>
<line x1="107" y1="676.6" x2="1138" y2="676.6" stroke="#262626" stroke-width="1.5"/>
<line x1="101.5" y1="676.50" x2="107.5" y2="676.50" stroke="#222" stroke-width="0.9"/>
<text x="72.8" y="679.30" font-family="Liberation Serif" font-size="11" fill="#555" textLength="20.9" lengthAdjust="spacingAndGlyphs">0.00</text>
<line x1="103.5" y1="664.22" x2="107.5" y2="664.22" stroke="#222" stroke-width="0.9"/>
<line x1="103.5" y1="651.94" x2="107.5" y2="651.94" stroke="#222" stroke-width="0.9"/>
<line x1="103.5" y1="639.66" x2="107.5" y2="639.66" stroke="#222" stroke-width="0.9"/>
<line x1="103.5" y1="627.38" x2="107.5" y2="627.38" stroke="#222" stroke-width="0.9"/>
<line x1="101.5" y1="615.10" x2="107.5" y2="615.10" stroke="#222" stroke-width="0.9"/>
<text x="50.9" y="617.90" font-family="Liberation Serif" font-size="11" fill="#555" textLength="45.8" lengthAdjust="spacingAndGlyphs">200.00 m</text>
<line x1="103.5" y1="602.82" x2="107.5" y2="602.82" stroke="#222" stroke-width="0.9"/>
<line x1="103.5" y1="590.54" x2="107.5" y2="590.54" stroke="#222" stroke-width="0.9"/>
<line x1="103.5" y1="578.26" x2="107.5" y2="578.26" stroke="#222" stroke-width="0.9"/>
<line x1="103.5" y1="565.98" x2="107.5" y2="565.98" stroke="#222" stroke-width="0.9"/>
<line x1="101.5" y1="553.70" x2="107.5" y2="553.70" stroke="#222" stroke-width="0.9"/>
<text x="50.9" y="556.50" font-family="Liberation Serif" font-size="11" fill="#555" textLength="45.8" lengthAdjust="spacingAndGlyphs">400.00 m</text>
<line x1="103.5" y1="541.42" x2="107.5" y2="541.42" stroke="#222" stroke-width="0.9"/>
<line x1="103.5" y1="529.14" x2="107.5" y2="529.14" stroke="#222" stroke-width="0.9"/>
<line x1="103.5" y1="516.86" x2="107.5" y2="516.86" stroke="#222" stroke-width="0.9"/>
<line x1="103.5" y1="504.58" x2="107.5" y2="504.58" stroke="#222" stroke-width="0.9"/>
<line x1="101.5" y1="492.30" x2="107.5" y2="492.30" stroke="#222" stroke-width="0.9"/>
<text x="50.9" y="495.10" font-family="Liberation Serif" font-size="11" fill="#555" textLength="45.8" lengthAdjust="spacingAndGlyphs">600.00 m</text>
<line x1="103.5" y1="480.02" x2="107.5" y2="480.02" stroke="#222" stroke-width="0.9"/>
<line x1="103.5" y1="467.74" x2="107.5" y2="467.74" stroke="#222" stroke-width="0.9"/>
<line x1="103.5" y1="455.46" x2="107.5" y2="455.46" stroke="#222" stroke-width="0.9"/>
<line x1="103.5" y1="443.18" x2="107.5" y2="443.18" stroke="#222" stroke-width="0.9"/>
<line x1="101.5" y1="430.90" x2="107.5" y2="430.90" stroke="#222" stroke-width="0.9"/>
<text x="50.9" y="433.70" font-family="Liberation Serif" font-size="11" fill="#555" textLength="45.8" lengthAdjust="spacingAndGlyphs">800.00 m</text>
<line x1="103.5" y1="418.62" x2="107.5" y2="418.62" stroke="#222" stroke-width="0.9"/>
<line x1="103.5" y1="406.34" x2="107.5" y2="406.34" stroke="#222" stroke-width="0.9"/>
<line x1="103.5" y1="394.06" x2="107.5" y2="394.06" stroke="#222" stroke-width="0.9"/>
<line x1="103.5" y1="381.78" x2="107.5" y2="381.78" stroke="#222" stroke-width="0.9"/>
<line x1="101.5" y1="369.50" x2="107.5" y2="369.50" stroke="#222" stroke-width="0.9"/>
<text x="72.8" y="372.30" font-family="Liberation Serif" font-size="11" fill="#555" textLength="20.9" lengthAdjust="spacingAndGlyphs">1.00</text>
<line x1="283.75" y1="676.5" x2="283.75" y2="681.5" stroke="#222" stroke-width="0.9"/>
<text x="273.8" y="692.8" font-family="Liberation Serif" font-size="11" fill="#555" textLength="20" lengthAdjust="spacingAndGlyphs">3/28</text>
<line x1="575.5" y1="676.5" x2="575.5" y2="681.5" stroke="#222" stroke-width="0.9"/>
<text x="565.5" y="692.8" font-family="Liberation Serif" font-size="11" fill="#555" textLength="20" lengthAdjust="spacingAndGlyphs">4/01</text>
<line x1="795.3" y1="676.5" x2="795.3" y2="681.5" stroke="#222" stroke-width="0.9"/>
<text x="785.3" y="692.8" font-family="Liberation Serif" font-size="11" fill="#555" textLength="20" lengthAdjust="spacingAndGlyphs">4/04</text>
<line x1="1013.8" y1="676.5" x2="1013.8" y2="681.5" stroke="#222" stroke-width="0.9"/>
<text x="1003.8" y="692.8" font-family="Liberation Serif" font-size="11" fill="#555" textLength="20" lengthAdjust="spacingAndGlyphs">4/07</text>
<text x="590" y="711" font-family="Liberation Serif" font-style="italic" font-size="12" fill="#555" textLength="66" lengthAdjust="spacingAndGlyphs">Date (UTC)</text>
<text transform="translate(27,581) rotate(-90)" font-family="Liberation Serif" font-style="italic" font-size="12" fill="#555" textLength="119" lengthAdjust="spacingAndGlyphs">Norm. CVD (arb. u.)</text>
<rect x="1139.5" y="538.5" width="123" height="138" fill="#fff" fill-opacity="0.8" stroke="#eeeeee" stroke-width="1"/>
<line x1="1147" y1="556.7" x2="1164.5" y2="556.7" stroke="#1f77b4" stroke-width="1.8"/>
<text x="1169.3" y="560.7" font-family="Liberation Serif" font-size="12" fill="#444" textLength="57" lengthAdjust="spacingAndGlyphs">all orders</text>
<line x1="1147" y1="577.0" x2="1164.5" y2="577.0" stroke="#ff7f0e" stroke-width="1.8"/>
<text x="1169.3" y="581.0" font-family="Liberation Serif" font-size="12" fill="#444" textLength="71.5" lengthAdjust="spacingAndGlyphs">$100 to $1k</text>
<line x1="1147" y1="597.3" x2="1164.5" y2="597.3" stroke="#2ca02c" stroke-width="1.8"/>
<text x="1169.3" y="601.3" font-family="Liberation Serif" font-size="12" fill="#444" textLength="71" lengthAdjust="spacingAndGlyphs">$1k to $10k</text>
<line x1="1147" y1="617.6" x2="1164.5" y2="617.6" stroke="#d62728" stroke-width="1.8"/>
<text x="1169.3" y="621.6" font-family="Liberation Serif" font-size="12" fill="#444" textLength="85" lengthAdjust="spacingAndGlyphs">$10k to $100k</text>
<line x1="1147" y1="637.9" x2="1164.5" y2="637.9" stroke="#9467bd" stroke-width="1.8"/>
<text x="1169.3" y="641.9" font-family="Liberation Serif" font-size="12" fill="#444" textLength="82.5" lengthAdjust="spacingAndGlyphs">$100k to $1M</text>
<line x1="1147" y1="658.2" x2="1164.5" y2="658.2" stroke="#8c564b" stroke-width="1.8"/>
<text x="1169.3" y="662.2" font-family="Liberation Serif" font-size="12" fill="#444" textLength="80" lengthAdjust="spacingAndGlyphs">$1M to $10M</text>
</svg></body></html>
